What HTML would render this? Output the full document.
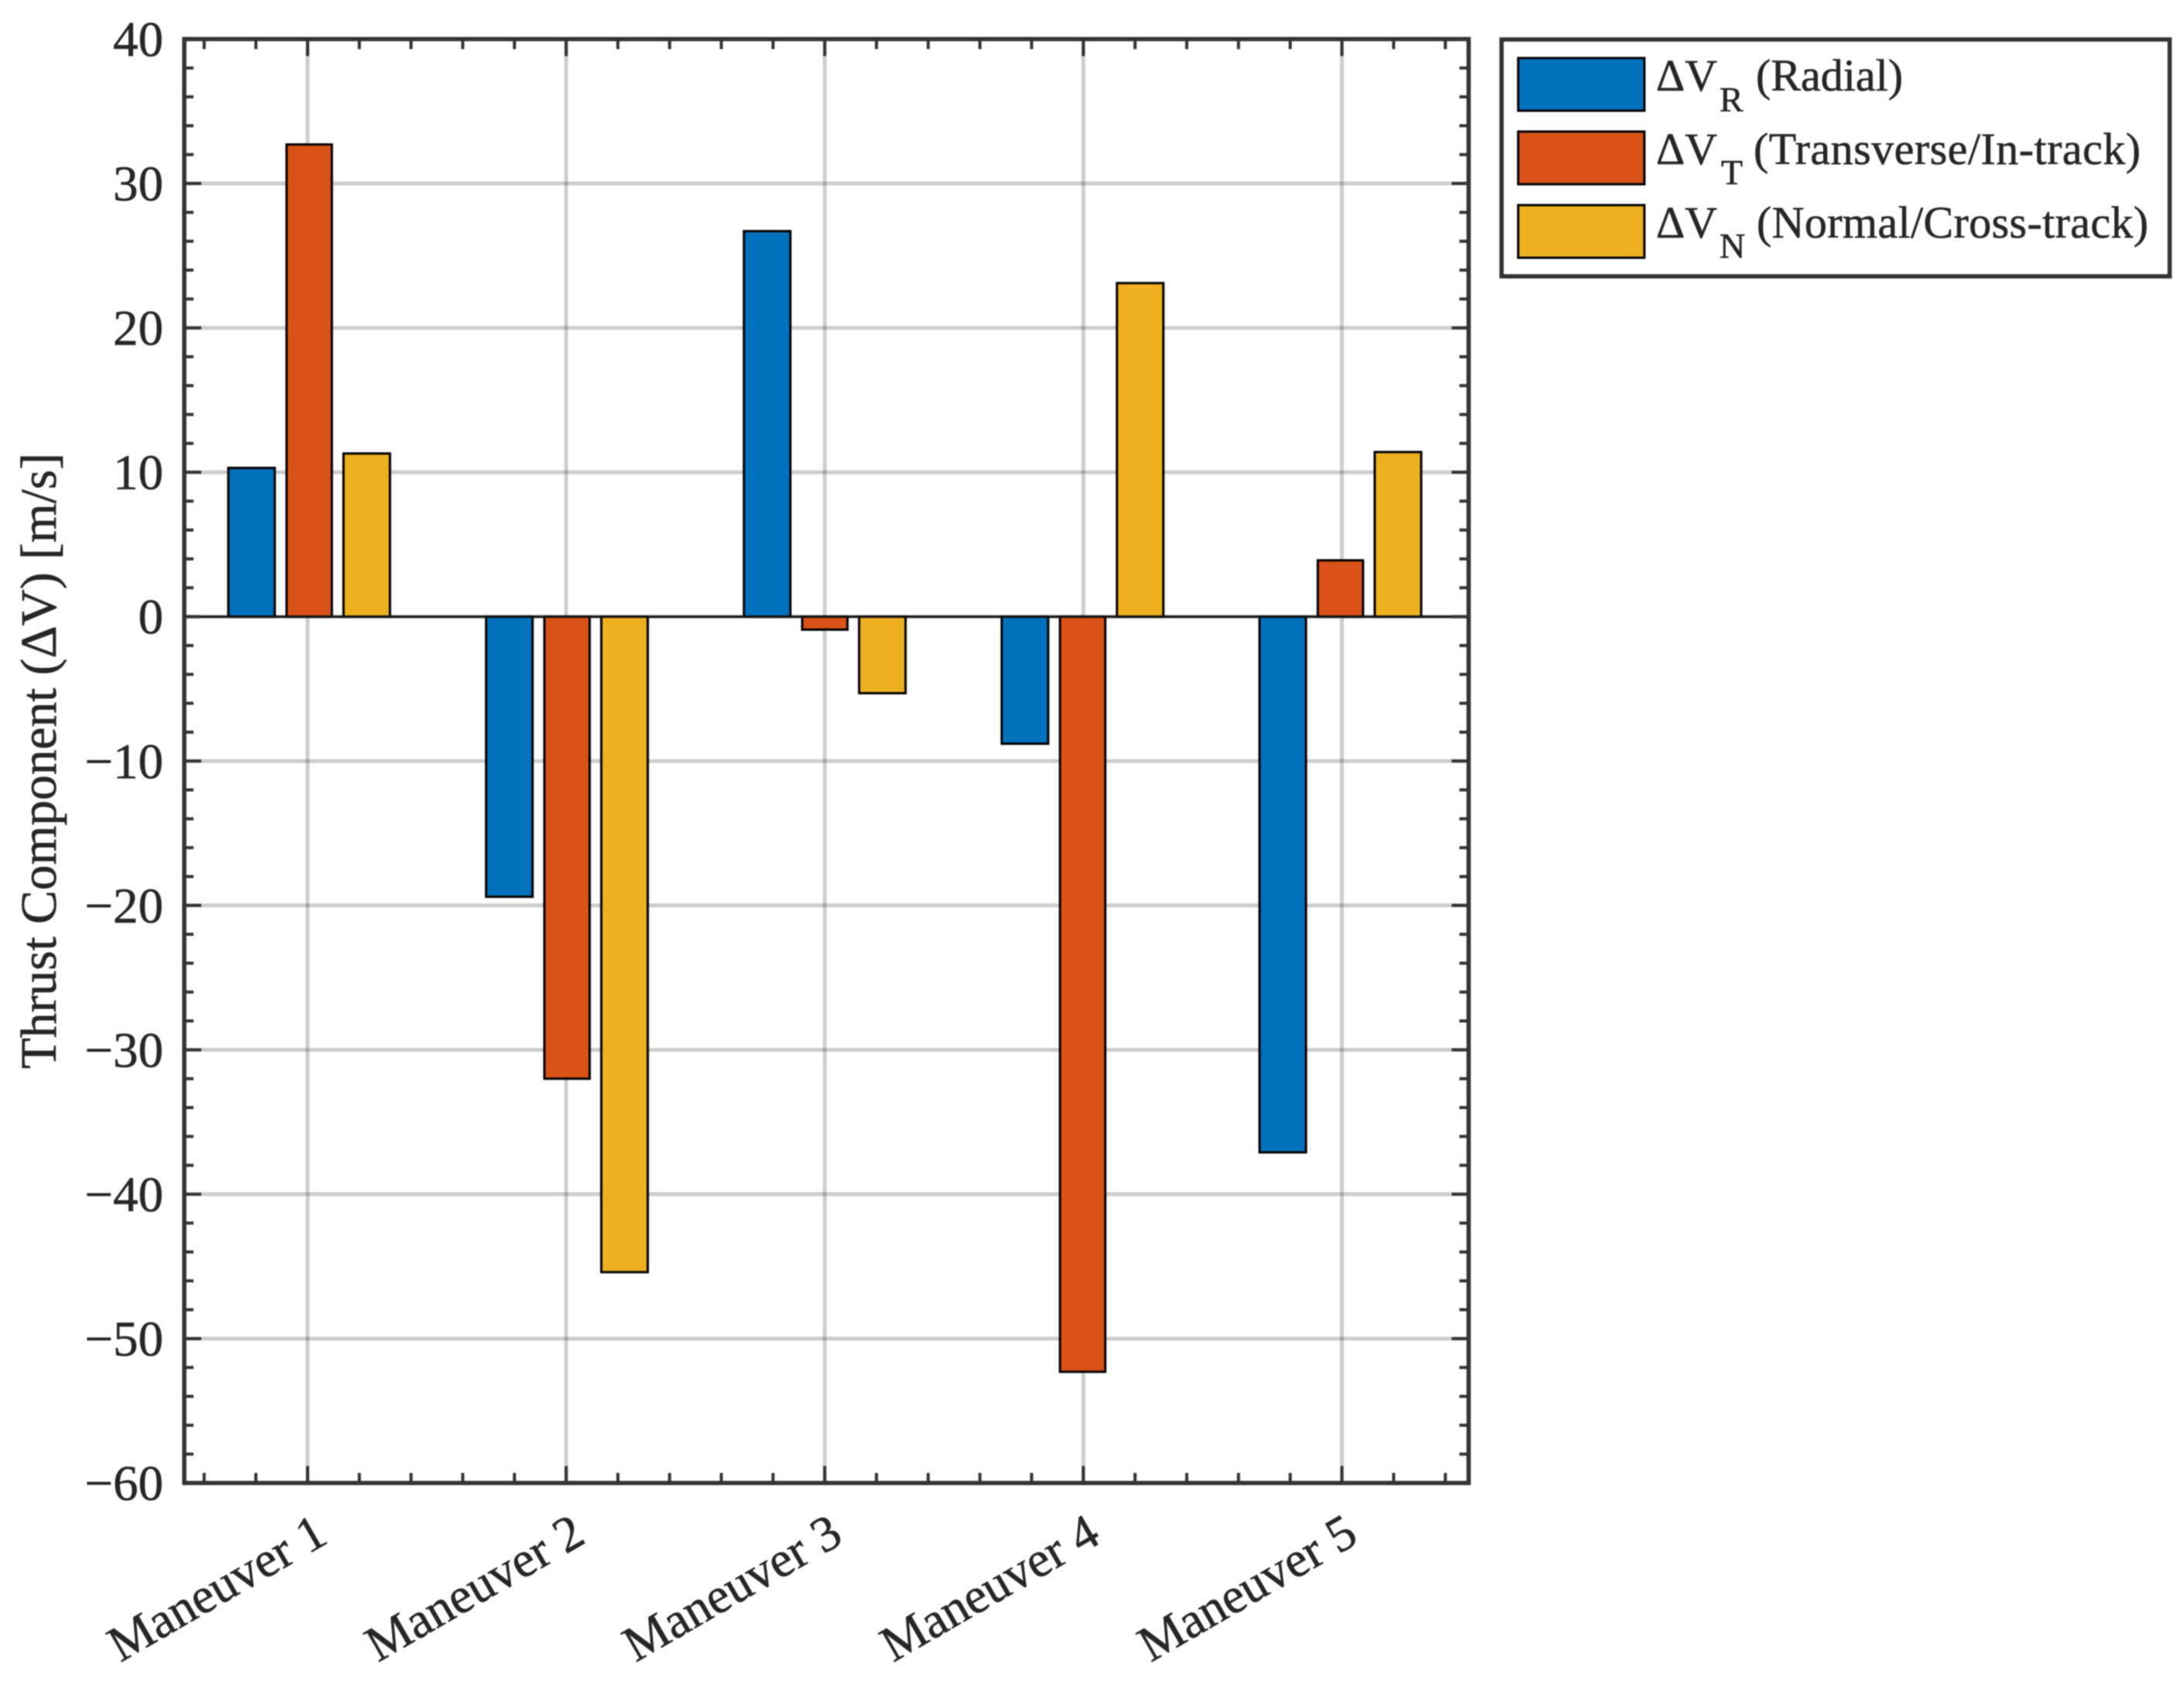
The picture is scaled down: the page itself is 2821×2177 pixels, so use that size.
<!DOCTYPE html>
<html>
<head>
<meta charset="utf-8">
<title>Thrust Components per Maneuver</title>
<style>
html,body{margin:0;padding:0;background:#fff;}
svg{display:block;filter:blur(0.85px);}
text{font-family:"Liberation Serif",serif;fill:#262626;stroke:#262626;stroke-width:0.6px;}
</style>
</head>
<body>
<svg id="chart" xmlns="http://www.w3.org/2000/svg" width="2821" height="2177" viewBox="0 0 2821 2177">
  <rect x="0" y="0" width="2821" height="2177" fill="#ffffff"/>
  <g id="grid"></g>
  <g id="bars"></g>
  <g id="axes"></g>
  <g id="ylabels"></g>
  <g id="xlabels"></g>
  <text transform="translate(72,983) rotate(-90)" text-anchor="middle" font-size="65.4">Thrust Component (ΔV) [m/s]</text>

  <g>
    <rect x="1939.5" y="51" width="863" height="306" fill="#fff" stroke="#333" stroke-width="5.5"/>
    <g>
      <rect x="1961" y="75" width="163" height="68" fill="#0072BD" stroke="#000" stroke-width="3"/>
      <text x="2139" y="117" font-size="58">ΔV</text>
      <text x="2221" y="144" font-size="46">R</text>
      <text x="2268" y="117" font-size="58">(Radial)</text>
    </g>
    <g>
      <rect x="1961" y="170" width="163" height="68" fill="#D95319" stroke="#000" stroke-width="3"/>
      <text x="2139" y="212" font-size="58">ΔV</text>
      <text x="2223" y="238" font-size="46">T</text>
      <text x="2265" y="212" font-size="58" textLength="500">(Transverse/In-track)</text>
    </g>
    <g>
      <rect x="1961" y="265" width="163" height="68" fill="#EDB120" stroke="#000" stroke-width="3"/>
      <text x="2139" y="307" font-size="58">ΔV</text>
      <text x="2221" y="333" font-size="46">N</text>
      <text x="2269" y="307" font-size="58" textLength="506">(Normal/Cross-track)</text>
    </g>
  </g>
</svg>
<script>
const categories = ["Maneuver 1", "Maneuver 2", "Maneuver 3", "Maneuver 4", "Maneuver 5"];
const radialValues = [10.3, -19.4, 26.7, -8.8, -37.1];
const transverseValues = [32.7, -32.0, -0.9, -52.3, 3.9];
const normalValues = [11.3, -45.4, -5.3, 23.1, 11.4];
const yTickValues = [40, 30, 20, 10, 0, -10, -20, -30, -40, -50, -60];

const NS = "http://www.w3.org/2000/svg";
const plotLeft = 238, plotRight = 1897, plotTop = 50.5, plotBottom = 1916;
const yMax = 40, yMin = -60;
const firstCatX = 397.3, catStep = 334;
const firstBarX = 399.4, barStep = 333;
const firstLabelX = 426, labelStep = 332.7;

function xScale(c) { return firstCatX + (c - 1) * catStep; }
function barCenter(c) { return firstBarX + (c - 1) * barStep; }
function yScale(v) { return plotTop + (yMax - v) / (yMax - yMin) * (plotBottom - plotTop); }
function xInvert(px) { return (px - firstCatX) / catStep + 1; }

function make(tag, parent, attrs) {
  const el = document.createElementNS(NS, tag);
  for (const k in attrs) el.setAttribute(k, attrs[k]);
  parent.appendChild(el);
  return el;
}

const gridG = document.getElementById("grid");
const barsG = document.getElementById("bars");
const axesG = document.getElementById("axes");
const yLabG = document.getElementById("ylabels");
const xLabG = document.getElementById("xlabels");
const gridColor = "rgba(38,38,38,0.23)";
const axisColor = "#333333";

/* grid */
yTickValues.forEach(function (v) {
  if (v === yMax || v === yMin) return;
  const l = make("line", gridG, { x1: plotLeft, x2: plotRight, y1: yScale(v), y2: yScale(v), stroke: gridColor, "stroke-width": 5 });
  
  
});
categories.forEach(function (c, i) {
  const x = xScale(i + 1);
  const l = make("line", gridG, { x1: x, x2: x, y1: plotTop, y2: plotBottom, stroke: gridColor, "stroke-width": 5 });
  
  
});

/* bars */
const seriesList = [
  { name: "radial", values: radialValues, color: "#0072BD", offset: -74.5, width: 60 },
  { name: "transverse", values: transverseValues, color: "#D95319", offset: 0, width: 58.5 },
  { name: "normal", values: normalValues, color: "#EDB120", offset: 74.3, width: 60 }
];
seriesList.forEach(function (s) {
  s.values.forEach(function (v, i) {
    const cx = barCenter(i + 1) + s.offset;
    const y0 = yScale(0), y1 = yScale(v);
    const r = make("rect", barsG, {
      x: cx - s.width / 2, width: s.width,
      y: Math.min(y0, y1), height: Math.abs(y1 - y0),
      fill: s.color, stroke: "#000", "stroke-width": 3
    });
    
    
  });
});

/* zero baseline */
const baseline = make("line", axesG, { x1: plotLeft, x2: plotRight, y1: yScale(0), y2: yScale(0), stroke: "#111", "stroke-width": 3 });



/* ticks */
function tick(x1, y1, x2, y2, w) {
  const t = make("line", axesG, { x1: x1, y1: y1, x2: x2, y2: y2, stroke: axisColor, "stroke-width": w });
  
  
}
for (let v = yMin; v <= yMax; v += 2) {
  const y = yScale(v);
  const major = v % 10 === 0;
  const len = major ? 22 : 12;
  const w = 4;
  tick(plotLeft, y, plotLeft + len, y, w);
  tick(plotRight, y, plotRight - len, y, w);
}
const cStart = Math.ceil(xInvert(plotLeft) * 5) / 5;
for (let k = Math.round(cStart * 5); k / 5 <= xInvert(plotRight); k++) {
  const x = xScale(k / 5);
  const major = k % 5 === 0;
  const len = major ? 22 : 13;
  tick(x, plotBottom, x, plotBottom - len, 4);
  tick(x, plotTop, x, plotTop + len, 4);
}

/* frame */
const frame = make("rect", axesG, { x: plotLeft, y: plotTop, width: plotRight - plotLeft, height: plotBottom - plotTop, fill: "none", stroke: axisColor, "stroke-width": 5.5 });



/* y tick labels */
yTickValues.forEach(function (v) {
  const t = make("text", yLabG, { x: 211, y: yScale(v) + 22, "text-anchor": "end", "font-size": 65 });
  t.textContent = (v < 0 ? "\u2212" : "") + Math.abs(v);
  
  
});

/* x tick labels */
categories.forEach(function (c, i) {
  const x = firstLabelX + i * labelStep, y = plotBottom + 76;
  const t = make("text", xLabG, { "text-anchor": "end", "font-size": 65, transform: "translate(" + x + "," + y + ") rotate(-30)" });
  t.textContent = c;
  
  
});
</script>
</body>
</html>
